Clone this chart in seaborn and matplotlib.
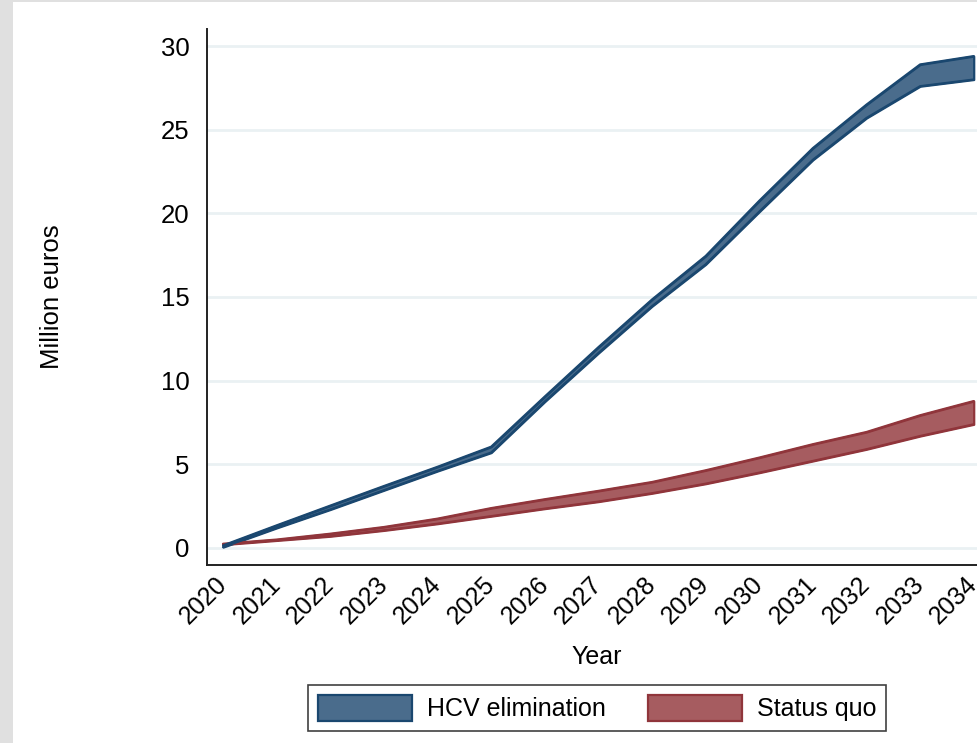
import numpy as np
import pandas as pd
import matplotlib
matplotlib.use("Agg")
import matplotlib.pyplot as plt
from matplotlib.patches import Patch, Rectangle
import seaborn as sns

# data (million euros, lower/upper bound of each band)
years = list(range(2020, 2035))
hcv_lo = [0.05, 1.20, 2.30, 3.45, 4.60, 5.70, 8.75, 11.65, 14.45, 16.95, 20.10, 23.20, 25.70, 27.60, 28.00]
hcv_hi = [0.15, 1.35, 2.53, 3.70, 4.85, 6.05, 9.05, 12.00, 14.85, 17.45, 20.75, 23.90, 26.50, 28.90, 29.40]
sq_lo = [0.20, 0.45, 0.70, 1.05, 1.45, 1.90, 2.35, 2.77, 3.27, 3.84, 4.50, 5.20, 5.90, 6.69, 7.39]
sq_hi = [0.25, 0.50, 0.85, 1.25, 1.75, 2.38, 2.91, 3.41, 3.94, 4.64, 5.40, 6.20, 6.93, 7.93, 8.78]
labels = ["HCV elimination", "Status quo"]
yticks = [0, 5, 10, 15, 20, 25, 30]

df = pd.DataFrame({"year": years, "hcv_lo": hcv_lo, "hcv_hi": hcv_hi,
                   "sq_lo": sq_lo, "sq_hi": sq_hi})

sns.set_style("white")
plt.rcParams['font.family'] = ['Liberation Sans', 'DejaVu Sans']
plt.rcParams['text.color'] = 'black'
plt.rcParams['xtick.color'] = 'black'
plt.rcParams['ytick.color'] = 'black'
plt.rcParams['axes.labelcolor'] = 'black'

blue_fill, blue_edge = "#4a6c8c", "#1a476f"
red_fill, red_edge = "#a65c60", "#90353b"

fig = plt.figure(figsize=(9.78, 7.43), dpi=100)
fig.patch.set_facecolor("#e0e0e0")
# white plot region inside the grey outer margin
fig.patches.append(Rectangle((13 / 978, 0), 1, 1 - 2 / 743, transform=fig.transFigure,
                             facecolor="white", edgecolor="none", zorder=-5))
ax = fig.add_axes([207 / 978, 1 - 565 / 743, 1 - 207 / 978, (565 - 29) / 743])
ax.set_facecolor("none")

for lo, hi, fc, ec in [("sq_lo", "sq_hi", red_fill, red_edge),
                       ("hcv_lo", "hcv_hi", blue_fill, blue_edge)]:
    ax.fill_between(df["year"], df[lo], df[hi], facecolor=fc, edgecolor=ec,
                    linewidth=1.6, zorder=3)
    sns.lineplot(data=df, x="year", y=lo, color=ec, linewidth=1.6, ax=ax, zorder=4)
    sns.lineplot(data=df, x="year", y=hi, color=ec, linewidth=1.6, ax=ax, zorder=4)

ax.set_xlim(2019.70, 2034.08)
ax.set_ylim(-1.02, 31.02)
ax.set_yticks(yticks)
ax.set_xticks(years)
ax.set_xticklabels([str(y) for y in years], rotation=45, ha="right",
                   rotation_mode="anchor", va="center")
ax.tick_params(axis="y", length=8.5, width=1.2, pad=4, labelsize=18.5, color="#222222")
ax.tick_params(axis="x", length=7, width=1.2, pad=4, labelsize=18, color="#222222")
ax.yaxis.grid(True, color="#eaf1f3", linewidth=2)
ax.xaxis.grid(False)
ax.set_axisbelow(True)
for s in ["top", "right"]:
    ax.spines[s].set_visible(False)
for s in ["left", "bottom"]:
    ax.spines[s].set_color("#222222")
    ax.spines[s].set_linewidth(1.4)

ax.set_ylabel("Million euros", fontsize=18.5)
ax.set_xlabel("Year", fontsize=18)
ax.yaxis.set_label_coords(-0.185, 0.5)
ax.xaxis.set_label_coords(0.506, -0.15)

handles = [Patch(facecolor=blue_fill, edgecolor=blue_edge, linewidth=1.6),
           Patch(facecolor=red_fill, edgecolor=red_edge, linewidth=1.6)]
leg = fig.legend(handles, labels, loc="center", bbox_to_anchor=(597 / 978, 1 - 708 / 743),
                 ncol=2, fontsize=18, frameon=True, fancybox=False, handlelength=3.75,
                 handleheight=1.2, handletextpad=0.6, columnspacing=1.7,
                 borderpad=0.4)
leg.get_frame().set_edgecolor("#111111")
leg.get_frame().set_linewidth(1.2)

fig.savefig("out.png", dpi=100, facecolor=fig.get_facecolor())
